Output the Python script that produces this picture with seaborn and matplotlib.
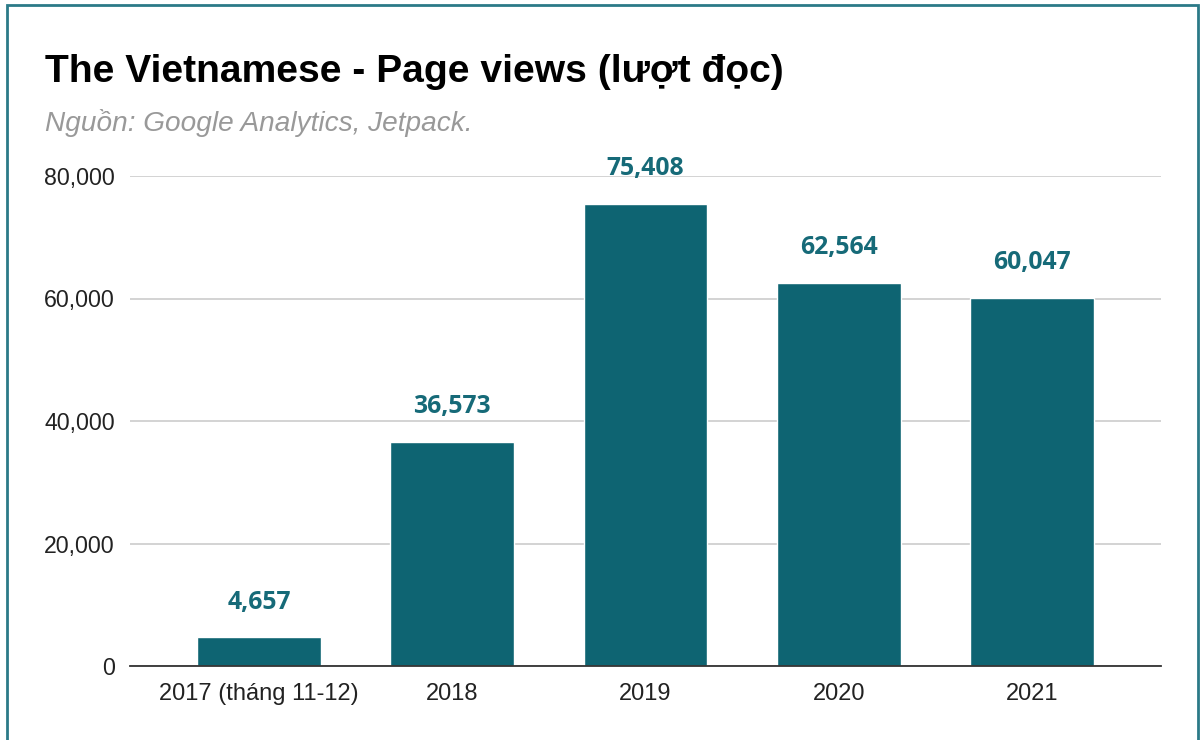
import matplotlib
matplotlib.use("Agg")
import matplotlib.pyplot as plt
import seaborn as sns
import pandas as pd
from matplotlib.patches import Rectangle
from matplotlib.ticker import FuncFormatter

categories = ["2017 (tháng 11-12)", "2018", "2019", "2020", "2021"]
page_views = [4657, 36573, 75408, 62564, 60047]
y_ticks = [0, 20000, 40000, 60000, 80000]

title = "The Vietnamese - Page views (lượt đọc)"
subtitle = "Nguồn: Google Analytics, Jetpack."

bar_color = "#0e6472"
label_color = "#166a78"

sns.set_theme(style="white")
plt.rcParams["font.family"] = ["Liberation Sans", "DejaVu Sans"]

df = pd.DataFrame({"cat": categories, "views": page_views})

fig = plt.figure(figsize=(12.01, 7.4), dpi=100)
ax = fig.add_axes([130 / 1201, 1 - 666 / 740, (1161 - 130) / 1201, (666 - 176) / 740])

sns.barplot(data=df, x="cat", y="views", color=bar_color, saturation=1,
            width=0.64, ax=ax, zorder=3)

ax.set_xlim(-0.667, 4.667)
ax.set_ylim(0, 80000)
ax.set_yticks(y_ticks)
ax.yaxis.set_major_formatter(FuncFormatter(lambda v, p: f"{int(v):,}"))
ax.grid(axis="y", color="#cccccc", linewidth=1.2, zorder=0)
ax.set_axisbelow(True)
for s in ["top", "right", "left"]:
    ax.spines[s].set_visible(False)
ax.spines["bottom"].set_color("#333333")
ax.spines["bottom"].set_linewidth(1.3)
ax.spines["bottom"].set_zorder(4)
ax.set_xlabel("")
ax.set_ylabel("")
ax.tick_params(axis="both", length=0, colors="#222222")
ax.tick_params(axis="y", pad=11, labelsize=16.7)
ax.tick_params(axis="x", pad=12.5, labelsize=17)

for i, v in enumerate(page_views):
    ax.annotate(f"{v:,}", (i, v), xytext=(0, 16.5), textcoords="offset points",
                ha="center", va="bottom", fontsize=17.8, fontweight="bold",
                color=label_color, family=["Open Sans", "DejaVu Sans"])

fig.text(45 / 1201, 1 - 82 / 740, title, fontsize=28.1, fontweight="bold",
         color="#000000", ha="left", va="baseline")
fig.text(45 / 1201, 1 - 131 / 740, subtitle, fontsize=20.2, style="italic",
         color="#999999", ha="left", va="baseline")

border = Rectangle((7 / 1201, -0.05), (1198 - 7) / 1201, 1 - 5 / 740 + 0.05,
                   transform=fig.transFigure, fill=False,
                   edgecolor="#2b7a88", linewidth=2, zorder=10)
fig.add_artist(border)

fig.savefig("out.png", dpi=100)
